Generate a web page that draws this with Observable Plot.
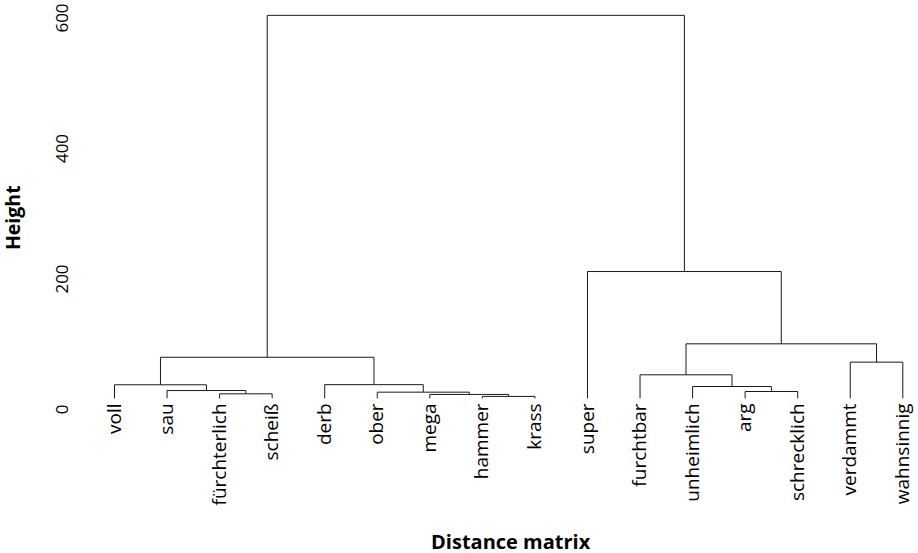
<!DOCTYPE html>
<html>
<head>
<meta charset="utf-8">
<script src="https://cdn.jsdelivr.net/npm/d3@7"></script>
<script src="https://cdn.jsdelivr.net/npm/@observablehq/plot@0.6"></script>
<style>
  html, body { margin: 0; padding: 0; background: #fff; }
  svg { display: block; }
</style>
</head>
<body>
<div id="chart"></div>
<script>
// Leaves in plotting order
const leaves = ["voll", "sau", "fürchterlich", "scheiß", "derb", "ober", "mega", "hammer", "krass",
  "super", "furchtbar", "unheimlich", "arg", "schrecklich", "verdammt", "wahnsinnig"];
// hclust-style merges: negative = leaf position (1-based), positive = earlier merge step
const mergeA = [-8, -3, -7, -13, -6, -2, -12, -1, -5, -11, -15, 8, 10, -10, 12];
const mergeB = [-9, -4, 1, -14, 3, 2, 4, 6, 5, 7, -16, 9, 11, 13, 14];
const mergeHeight = [17, 21, 20, 24.5, 23.5, 26, 32.2, 34.8, 35, 50.1, 69.5, 77, 97.6, 208.4, 601];
const leafEnd = 14;
const yTicks = [0, 200, 400, 600];
const xTitle = "Distance matrix";
const yTitle = "Height";

// Build dendrogram segments from the merge table
const nodeX = [], nodeH = [];
const pos = (i) => i < 0 ? {x: -i, h: leafEnd} : {x: nodeX[i - 1], h: nodeH[i - 1]};
const segs = [];
mergeA.forEach((a, k) => {
  const b = mergeB[k], h = mergeHeight[k];
  const A = pos(a), B = pos(b);
  segs.push({x1: A.x, y1: A.h, x2: A.x, y2: h});
  segs.push({x1: A.x, y1: h, x2: B.x, y2: h});
  segs.push({x1: B.x, y1: B.h, x2: B.x, y2: h});
  nodeX[k] = (A.x + B.x) / 2;
  nodeH[k] = h;
});

const chart = Plot.plot({
  width: 918,
  height: 553,
  marginLeft: 114,
  marginRight: 15.7,
  marginTop: 15.5,
  marginBottom: 146,
  x: {domain: [1, leaves.length], axis: null},
  y: {domain: [0, 600], axis: null},
  style: {fontFamily: "'Open Sans', sans-serif", color: "#000", background: "#fff", overflow: "visible"},
  marks: [
    Plot.link(segs, {x1: "x1", y1: "y1", x2: "x2", y2: "y2", stroke: "#1a1a1a", strokeWidth: 1}),
    Plot.text(leaves, {x: (d, i) => i + 1, y: () => leafEnd, text: (d) => d, rotate: -90,
      textAnchor: "end", lineAnchor: "middle", dy: 5, fontSize: 19, fill: "#000"}),
    Plot.text(yTicks, {y: (d) => d, text: (d) => String(d), frameAnchor: "left", dx: -47, dy: 2, rotate: -90,
      textAnchor: "middle", lineAnchor: "bottom", fontSize: 17, fill: "#000"}),
    Plot.text([yTitle], {text: (d) => d, frameAnchor: "left", dx: -94.5, dy: 6, rotate: -90,
      textAnchor: "middle", lineAnchor: "bottom", fontSize: 19.5, fontWeight: "bold", fill: "#000"}),
    Plot.text([xTitle], {text: (d) => d, frameAnchor: "bottom", dy: 141, dx: 2,
      textAnchor: "middle", lineAnchor: "bottom", fontSize: 20, fontWeight: "bold", fill: "#000"})
  ]
});
document.getElementById("chart").append(chart);
</script>
</body>
</html>
